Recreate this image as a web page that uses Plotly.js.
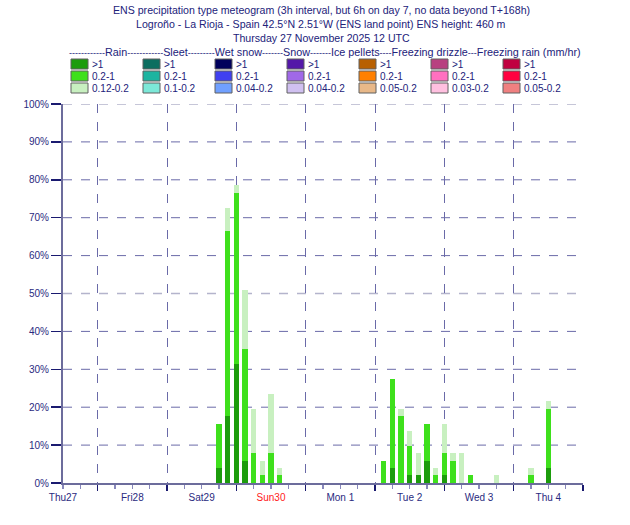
<!DOCTYPE html>
<html>
<head>
<meta charset="utf-8">
<script src="https://cdn.plot.ly/plotly-3.0.1.min.js"></script>
<style>html,body{margin:0;padding:0;background:#fff;}#chart{width:630px;height:525px;}</style>
</head>
<body>
<div id="chart"></div>
<script>
// ---- Data (x in hours from Thu 27 Nov 2025 12 UTC; y in % of ensemble members) ----
const hours = [54,57,60,63,66,69,72,75,111,114,117,120,123,126,129,132,135,138,141,150,162,168];
const rainHeavy = [3.9,17.6,31.4,5.9,0,0,0,0, 0,3.9,0,2.0,2.0,5.9,0,2.0,0,0,0, 0,0,3.9];      // >1 mm/hr
const rainMid   = [11.8,49.0,45.1,29.4,7.8,2.0,7.8,2.0, 5.9,23.5,17.6,7.8,0,9.8,2.0,5.9,5.9,0,2.0, 0,2.0,15.7]; // 0.2-1
const rainLight = [0,5.9,2.0,15.7,11.8,3.9,15.7,2.0, 0,0,2.0,3.9,5.9,0,2.0,7.8,2.0,7.8,0, 2.0,2.0,2.0]; // 0.12-0.2

const dayTickHours = [0,24,48,72,96,120,144,168];
const dayLabels = ["Thu27","Fri28","Sat29","Sun30","Mon 1","Tue 2","Wed 3","Thu 4"];
const dayBoundaries = [12,36,60,84,108,132,156,180];
const yTicks = [0,10,20,30,40,50,60,70,80,90,100];

const legendTypes = ["Rain","Sleet","Wet snow","Snow","Ice pellets","Freezing drizzle","Freezing rain (mm/hr)"];
const legendDashes = ["------------","------------","---------","-------","-------","----","---"];
const legendColors = [
  ["#1c9c0c","#3ee01c","#c8f0c0"],
  ["#0c6e60","#1cb4a0","#7ce8d8"],
  ["#00005c","#4040f0","#70a0ff"],
  ["#5418a8","#a068e8","#d0c0f0"],
  ["#b86000","#ff8000","#e8b888"],
  ["#b84080","#ff70c0","#ffc0e0"],
  ["#c00040","#ff0040","#f08080"]
];
const legendLabels = [
  [">1","0.2-1","0.12-0.2"],
  [">1","0.2-1","0.1-0.2"],
  [">1","0.2-1","0.04-0.2"],
  [">1","0.2-1","0.04-0.2"],
  [">1","0.2-1","0.05-0.2"],
  [">1","0.2-1","0.03-0.2"],
  [">1","0.2-1","0.05-0.2"]
];
const titleLines = [
  "ENS precipitation type meteogram (3h interval, but 6h on day 7, no data beyond T+168h)",
  "Logroño - La Rioja - Spain 42.5°N 2.51°W (ENS land point) ENS height: 460 m",
  "Thursday 27 November 2025 12 UTC"
];

// ---- Layout helpers (pixel -> paper) ----
const W = 630, H = 525, L = 63, R = 583, T = 104, B = 483;
const px = x => (x - L) / (R - L);
const py = y => (B - y) / (B - T);
const NAVY = "#22227a";
const FONT = "Liberation Sans, Arial, sans-serif";

const traces = [
  {type:"bar", x:hours, y:rainHeavy, marker:{color:legendColors[0][0]}, width:1.95, hoverinfo:"skip"},
  {type:"bar", x:hours, y:rainMid,   marker:{color:legendColors[0][1]}, width:1.95, hoverinfo:"skip"},
  {type:"bar", x:hours, y:rainLight, marker:{color:legendColors[0][2]}, width:1.95, hoverinfo:"skip"},
  {type:"scatter", x:[0], y:[0], xaxis:"x2", mode:"markers", marker:{opacity:0}, hoverinfo:"skip"}
];

const shapes = [];
const annotations = [];

// horizontal dashed gridlines
yTicks.slice(1).forEach(v => {
  const light = (v === 50 || v === 100);
  shapes.push({type:"line", xref:"paper", yref:"y", x0:0, x1:1, y0:v, y1:v, layer:"below",
    line:{color: light ? "#b4b4cc" : "#6a6aa8", width: light ? 1.5 : 1, dash:"dash"}});
});

// titles
titleLines.forEach((t, i) => {
  annotations.push({text:t, xref:"paper", yref:"paper", x:px(321), y:py(9.5 + i*14.5), xanchor:"center", yanchor:"middle",
    showarrow:false, font:{family:FONT, size:10.6, color:NAVY}});
});
// legend header: narrow dashes, normal words
const headerText = legendTypes.map((t, i) => '<span style="font-size:9px">' + legendDashes[i] + '</span>' + t).join("");
annotations.push({text:headerText, xref:"paper", yref:"paper", x:px(67), y:py(51.5), xanchor:"left", yanchor:"middle",
  showarrow:false, font:{family:FONT, size:10.8, color:NAVY}});

// legend boxes
const rowY = [59, 71, 83];
legendTypes.forEach((tp, c) => {
  const x0 = 71 + c*72;
  for (let r = 0; r < 3; r++) {
    shapes.push({type:"rect", xref:"paper", yref:"paper", x0:px(x0), x1:px(x0+17), y0:py(rowY[r]), y1:py(rowY[r]+10),
      fillcolor:legendColors[c][r], line:{color:"#606060", width:1}});
    annotations.push({text:legendLabels[c][r], xref:"paper", yref:"paper", x:px(x0+19), y:py(rowY[r]+5), xanchor:"left", yanchor:"middle",
      showarrow:false, font:{family:FONT, size:10, color:NAVY}});
  }
});

const layout = {
  width: W, height: H,
  margin: {l:L, r:W-R, t:T, b:H-B, pad:0},
  paper_bgcolor:"#ffffff", plot_bgcolor:"#ffffff",
  showlegend:false, barmode:"stack", bargap:0,
  font:{family:FONT, color:NAVY},
  xaxis: {range:[0,180], tickmode:"array", tickvals:dayBoundaries, showticklabels:false,
    ticks:"outside", ticklen:6, tickwidth:1.5, tickcolor:"#1a1a70",
    showgrid:true, gridcolor:"#6a6aa8", griddash:"dash", gridwidth:1,
    minor:{dtick:6, tick0:0, ticks:"outside", ticklen:4, tickcolor:"#8888bb", showgrid:false},
    showline:true, linecolor:"#6c6c9c", linewidth:2, zeroline:false, fixedrange:true},
  xaxis2: {range:[0,180], overlaying:"x", anchor:"y", side:"bottom", tickmode:"array", tickvals:dayTickHours,
    ticktext: dayLabels.map(d => d === "Sun30" ? '<span style="color:#ff2020">'+d+'</span>' : d),
    ticks:"outside", ticklen:5, tickcolor:"rgba(0,0,0,0)", showgrid:false, showline:false, zeroline:false,
    tickfont:{family:FONT, size:10, color:"#2a2a80"}, fixedrange:true},
  yaxis: {range:[0,100], tickmode:"array", tickvals:yTicks, ticktext:yTicks.map(v => v + "%"),
    ticks:"outside", ticklen:10, tickwidth:1.5, tickcolor:"#1a1a70",
    tickfont:{family:FONT, size:10, color:"#2a2a80"},
    showgrid:false, showline:true, linecolor:"#6c6c9c", linewidth:2, zeroline:false, fixedrange:true},
  shapes: shapes,
  annotations: annotations
};

Plotly.newPlot("chart", traces, layout, {displayModeBar:false, staticPlot:true});
</script>
</body>
</html>
